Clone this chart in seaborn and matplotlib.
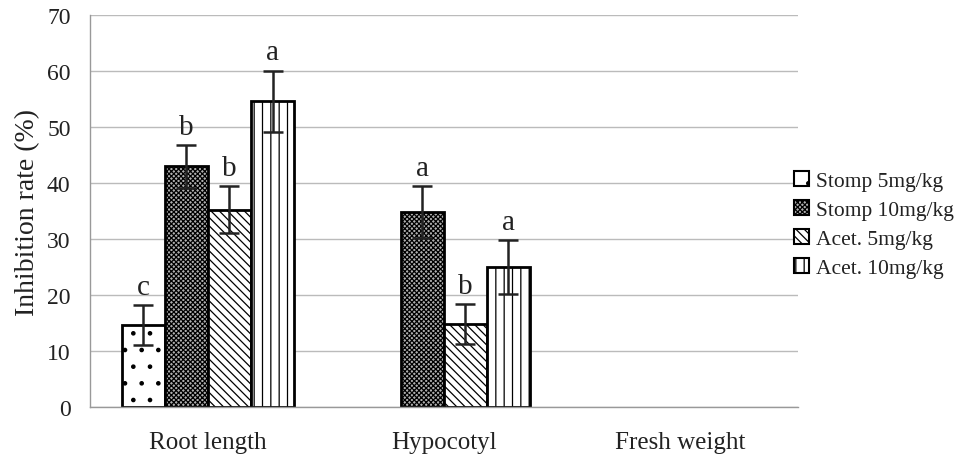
import matplotlib
matplotlib.use("Agg")
import matplotlib.pyplot as plt
import seaborn as sns
import pandas as pd
import numpy as np
from matplotlib.patches import Patch

categories = ["Root length", "Hypocotyl", "Fresh weight"]
treatments = ["Stomp 5mg/kg", "Stomp 10mg/kg", "Acet. 5mg/kg", "Acet. 10mg/kg"]
stomp5 = [14.6, 0, 0]
stomp10 = [43.0, 34.8, 0]
acet5 = [35.2, 14.8, 0]
acet10 = [54.6, 25.0, 0]
err_stomp5 = [3.6, 0, 0]
err_stomp10 = [3.8, 4.7, 0]
err_acet5 = [4.2, 3.6, 0]
err_acet10 = [5.5, 4.9, 0]
letters_stomp5 = ["c", "", ""]
letters_stomp10 = ["b", "a", ""]
letters_acet5 = ["b", "b", ""]
letters_acet10 = ["a", "a", ""]

values = [stomp5, stomp10, acet5, acet10]
errors = [err_stomp5, err_stomp10, err_acet5, err_acet10]
letters = [letters_stomp5, letters_stomp10, letters_acet5, letters_acet10]

rows = []
for t, vals in zip(treatments, values):
    for c, v in zip(categories, vals):
        rows.append({"Category": c, "Treatment": t, "Value": v})
df = pd.DataFrame(rows)

sns.set_style("white")
plt.rcParams["font.family"] = ["Liberation Serif", "DejaVu Serif"]
plt.rcParams["hatch.linewidth"] = 0.9

fig = plt.figure(figsize=(9.68, 4.6), dpi=100)
ax = fig.add_axes([0.093, 0.113, 0.731, 0.852])

sns.barplot(data=df, x="Category", y="Value", hue="Treatment", order=categories,
            hue_order=treatments, width=0.73, ax=ax, errorbar=None, legend=False,
            palette=["white"] * 4)

hatches = [".", "xxxxxxx", "\\\\\\\\", "||"]
faces = ["white", "#b0b0b0", "white", "white"]
bar_containers = list(ax.containers)
for i, cont in enumerate(bar_containers):
    for j, p in enumerate(cont.patches):
        p.set_facecolor(faces[i])
        p.set_edgecolor("black")
        p.set_linewidth(2)
        p.set_hatch(hatches[i])
        if values[i][j] == 0:
            p.set_visible(False)
            continue
        cx = p.get_x() + p.get_width() / 2
        top = p.get_height()
        e = errors[i][j]
        ax.errorbar(cx, top, yerr=e, color="#222222", capsize=7, capthick=1.8,
                    elinewidth=1.8, zorder=5)
        ax.text(cx, top + e + 0.9, letters[i][j], ha="center", va="bottom",
                fontsize=21, color="#222222")

ax.set_ylim(0, 70)
ax.set_xlim(-0.5, 2.5)
ax.set_yticks(range(0, 71, 10))
ax.yaxis.grid(True, color="#bbbbbb", linewidth=1)
ax.set_axisbelow(True)
for s in ["top", "right"]:
    ax.spines[s].set_visible(False)
for s in ["left", "bottom"]:
    ax.spines[s].set_color("#999999")
    ax.spines[s].set_linewidth(1)

ax.set_xticks([0, 1, 2])
ax.set_xticklabels(categories)
ax.set_xticks([-0.5, 0.5, 1.5, 2.5], minor=True)
ax.tick_params(axis="x", which="major", length=0, pad=17, labelsize=18, colors="#222222")
ax.tick_params(axis="x", which="minor", length=6, color="#999999", direction="out")
ax.tick_params(axis="y", length=4, color="#999999", labelsize=17, colors="#222222", pad=10)
ax.set_xlabel("")
ax.set_ylabel("Inhibition rate (%)", fontsize=20, color="#222222", labelpad=5)

handles = [Patch(facecolor=faces[i], edgecolor="black", hatch=hatches[i], linewidth=1.5)
           for i in range(4)]
leg = fig.legend(handles, treatments, loc="center left", bbox_to_anchor=(0.8, 0.51),
                 frameon=False, fontsize=15.5, handlelength=0.7, handleheight=0.7,
                 handletextpad=0.35, labelspacing=0.42, labelcolor="#222222")

fig.savefig("out.png", dpi=100)
